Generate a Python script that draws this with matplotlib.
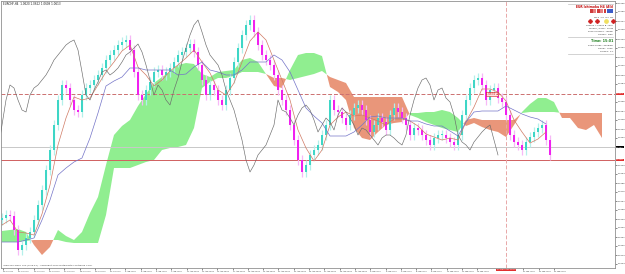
import numpy as np
import matplotlib
matplotlib.use("Agg")
import matplotlib.pyplot as plt
from matplotlib.transforms import blended_transform_factory
from matplotlib.lines import Line2D
from matplotlib.patches import Rectangle

# ---------------- data (values in pips above BASE price) ----------------
BASE = 1.0500
PIP = 0.0001

closes = [50, 53, 52, 38, 18, 23, 30, 36, 48, 63,
          78, 98, 118, 143, 168, 183, 180, 168, 158, 156,
          173, 180, 183, 188, 193, 200, 208, 213, 218, 223,
          226, 228, 218, 196, 173, 168, 178, 186, 196, 198,
          193, 196, 200, 206, 213, 216, 220, 224, 216, 203,
          188, 173, 183, 178, 168, 163, 178, 190, 206, 220,
          233, 243, 248, 236, 223, 213, 208, 203, 193, 178,
          168, 158, 143, 128, 108, 96, 103, 113, 118, 123,
          133, 143, 168, 158, 156, 150, 143, 153, 160, 163,
          158, 148, 136, 143, 150, 146, 138, 153, 160, 156,
          150, 143, 133, 140, 138, 133, 128, 123, 130, 133,
          133, 130, 126, 123, 133, 153, 168, 180, 188, 190,
          183, 168, 178, 180, 170, 166, 153, 133, 126, 123,
          118, 126, 131, 136, 140, 143, 128, 113]
first_open = 48

# Tenkan / Kijun, one value every 2 bars
tenkan = [43, 48, 36, 35, 33, 54, 83, 123, 150, 171,
          168, 170, 183, 196, 206, 217, 223, 201, 193, 182,
          188, 197, 203, 210, 218, 206, 195, 178, 173, 185,
          206, 227, 236, 228, 208, 188, 168, 138, 120, 107,
          118, 143, 151, 156, 152, 153, 150, 147, 143, 149,
          149, 147, 142, 134, 131, 128, 130, 128, 146, 161,
          179, 179, 176, 167, 148, 136, 125, 129, 136]
kijun = [26, 26, 26, 28, 30, 48, 68, 93, 100, 106,
         110, 130, 155, 182, 187, 191, 200, 200, 198, 198,
         198, 198, 193, 194, 201, 206, 198, 196, 193, 193,
         198, 206, 206, 206, 213, 208, 196, 178, 160, 152,
         145, 132, 132, 132, 136, 143, 151, 152, 150, 150,
         150, 147, 147, 144, 142, 142, 137, 132, 146, 156,
         157, 157, 157, 162, 158, 154, 151, 149, 144]

# Senkou spans (already shifted forward), one value every 2 bars
span_a = [37, 38, 39, 36, 23, 13, 21, 38, 32, 28,
          36, 55, 71, 103, 133, 142, 148, 162, 174, 185,
          191, 196, 203, 205, 204, 194, 191, 196, 197, 198,
          208, 210, 206, 194, 182, 180, 198, 213, 215, 215,
          212, 181, 176, 168, 140, 130, 128, 136, 143, 145,
          146, 155, 155, 156, 156, 158, 156, 150, 142, 145,
          141, 138, 136, 131, 143, 156, 164, 170, 170, 166,
          150, 150, 140, 138, 143, 130]
span_b = [26, 26, 26, 27, 28, 28, 28, 28, 26, 25,
          25, 25, 25, 53, 100, 100, 100, 103, 106, 108,
          118, 120, 121, 123, 140, 180, 186, 190, 190, 192,
          196, 196, 196, 194, 190, 190, 188, 190, 192, 194,
          197, 191, 188, 185, 171, 171, 171, 171, 171, 171,
          171, 153, 150, 146, 143, 140, 138, 136, 148, 150,
          148, 148, 148, 148, 148, 155, 156, 156, 156, 156,
          155, 155, 155, 155, 155, 155]
CHIKOU_SHIFT = 13

level_dashed = 174
level_gray = 121
level_red = 108
cursor_bar = 126

date_labels = ["20 Jul 2020", "21 Jul 12:00", "22 Jul 20:00", "24 Jul 04:00",
               "27 Jul 12:00", "28 Jul 20:00", "30 Jul 04:00", "31 Jul 12:00",
               "3 Aug 20:00", "5 Aug 04:00", "6 Aug 12:00", "7 Aug 20:00",
               "11 Aug 04:00", "12 Aug 12:00", "13 Aug 20:00", "17 Aug 04:00",
               "18 Aug 12:00", "19 Aug 20:00", "21 Aug 04:00", "24 Aug 12:00",
               "25 Aug 20:00", "27 Aug 04:00", "28 Aug 12:00", "31 Aug 20:00",
               "2 Sep 04:00", "3 Sep 12:00", "4 Sep 20:00", "8 Sep 04:00",
               "9 Sep 12:00", "10 Sep 20:00", "14 Sep 04:00", "15 Sep 12:00",
               "16 Sep 20:00", "18 Sep 04:00", "21 Sep 12:00", "22 Sep 20:00",
               "24 Sep 04:00"]
cursor_label = "17 Sep 2020 16:00"
title_text = "EURCHF,H4  1.0620 1.0622 1.0609 1.0613"
footer_text = "Ichimoku Kinko Hyo (9,26,52) - Copyright 2020 MetaQuotes Software Corp."
panel_title = "EUR Ichimoku H4 (Alt)"
panel_tf = "M15  H1  H4  D1"
panel_lines1 = ["Senkou A above B : Bull", "Tenkan / Kijun : Cross",
                "Price vs Kumo : Inside", "Chikou : Free"]
panel_time = "Time: 15:01"
panel_lines2 = ["Kumo break : Pending", "Signal : none", "Spread : 2.1"]

# ---------------- figure ----------------
W, H = 625, 274
fig = plt.figure(figsize=(W / 100, H / 100), dpi=100, facecolor="white")
ax = fig.add_axes([1 / W, 6 / H, 614 / W, 267 / H])
ax.set_xlim(-0.25, 153.25)
ax.set_ylim(0, 267)

GREEN = "#90ee90"
SALMON = "#e9967a"
BULL = "#3ed6c6"
BEAR = "#f020f0"
BULL_W = "#b4f0ea"
BEAR_W = "#f7b8f7"

# cloud
sa = np.array(span_a, float)
sb = np.array(span_b, float)
xs = np.arange(len(sa)) * 2
ax.fill_between(xs, sa, sb, where=sa >= sb, interpolate=True, color=GREEN, lw=0, zorder=1)
ax.fill_between(xs, sa, sb, where=sa < sb, interpolate=True, color=SALMON, lw=0, zorder=1)

# horizontal / vertical lines
ax.axhline(level_dashed, color="#cc7070", lw=0.7, ls=(0, (4, 2)), zorder=1.5)
ax.axhline(level_gray, color="#c8c8c8", lw=0.7, zorder=1.5)
ax.axhline(level_red, color="#d06060", lw=0.7, zorder=1.5)
ax.axvline(cursor_bar, color="#e8a8a8", lw=0.7, ls=(0, (4, 2)), zorder=1.5)

# candles
c = np.array(closes, float)
o = np.r_[first_open, c[:-1]]
xb = np.arange(len(c))
bull = c >= o
lo = np.minimum(o, c)
hi = np.maximum(o, c)
ax.vlines(xb, lo - 5, hi + 5, colors=np.where(bull, BULL_W, BEAR_W), lw=0.9, zorder=2)
ax.bar(xb, np.maximum(hi - lo, 1.0), bottom=lo, width=0.5,
       color=np.where(bull, BULL, BEAR), lw=0, zorder=3)

# indicator lines
xt = np.arange(len(tenkan)) * 2
ax.plot(xt, tenkan, color="#d07a64", lw=0.5, zorder=4)
ax.plot(xt, kijun, color="#7474c8", lw=0.5, zorder=4)
ax.plot(xb - CHIKOU_SHIFT, c, color="#6a6a6a", lw=0.45, zorder=4)

# axes styling
for s in ax.spines.values():
    s.set_color("#909090")
    s.set_linewidth(0.6)
ax.yaxis.tick_right()
grid_v = np.arange(4, 266, 9)
levels = np.array([level_dashed, level_gray, level_red])
yt = [v for v in grid_v if np.min(np.abs(levels - v)) > 4.5]
ax.set_yticks(yt)
ax.set_yticklabels([f"{BASE + v * PIP:.4f}" for v in yt])
ax.tick_params(axis="y", labelsize=1.6, length=1.2, width=0.4, pad=0.6, colors="#303030")

xt_pos = 0.25 + 3.825 * np.arange(len(date_labels))
keep = [k for k in range(len(date_labels)) if abs(xt_pos[k] + 1.5 - cursor_bar) > 3.2]
ax.set_xticks(xt_pos[keep])
ax.set_xticklabels([date_labels[k] for k in keep])
ax.tick_params(axis="x", labelsize=1.3, length=1.2, width=0.4, pad=0.6, colors="#303030")
for lab in ax.get_xticklabels():
    lab.set_ha("left")

# highlighted price labels on the right axis
tr = blended_transform_factory(ax.transAxes, ax.transData)
for v, fc in [(level_dashed, "#e03030"), (level_gray, "#000000"), (level_red, "#e03030")]:
    ax.text(1.002, v, f"{BASE + v * PIP:.4f}", transform=tr, fontsize=1.6, color="white",
            ha="left", va="center", clip_on=False, zorder=6,
            bbox=dict(boxstyle="square,pad=0.15", fc=fc, ec="none"))

# cursor time label
trx = blended_transform_factory(ax.transData, ax.transAxes)
ax.text(cursor_bar, -0.004, cursor_label, transform=trx, fontsize=1.4, color="white",
        ha="center", va="top", clip_on=False, zorder=6,
        bbox=dict(boxstyle="square,pad=0.25", fc="#e03030", ec="none"))

# small red marker label near the dashed level
ax.text(122.5, level_dashed, "1.0674 \u25c4", fontsize=1.9, color="#d02020", ha="center",
        va="center", zorder=6,
        bbox=dict(boxstyle="square,pad=0.15", fc="#ffe0e0", ec="#d02020", lw=0.4))

# title and footer
fig.text(3 / W, 1 - 4 / H, title_text, fontsize=2.0, ha="left", va="center", color="#202020")
fig.text(3 / W, 7.5 / H, footer_text, fontsize=1.7, ha="left", va="bottom", color="#404040")


# info panel (top right)
def fy(py):
    return 1 - py / H


def fx(px):
    return px / W


for py in (4, 37, 54):
    fig.add_artist(Line2D([fx(568), fx(613)], [fy(py), fy(py)], color="#c0c0c0", lw=0.5))
fig.text(fx(613), fy(7), panel_title, fontsize=2.2, color="#c00000", ha="right",
         va="center", weight="bold")
box_cols = ["#d03c3c", "#e88080", "#d03c3c", "#e88080", "#d03c3c", "#3c5cc8", "#3c5cc8"]
for k, col in enumerate(box_cols):
    fig.add_artist(Rectangle((fx(590 + k * 3.4), fy(13)), 2.8 / W, 3.5 / H, color=col, lw=0))
fig.text(fx(613), fy(17), panel_tf, fontsize=1.7, color="#303030", ha="right", va="center")
for px, mk, col in [(590, "P", "#d02020"), (597, "P", "#d02020"),
                    (606, "o", "#f0e060"), (613, "P", "#d02020")]:
    fig.add_artist(Line2D([fx(px)], [fy(21)], marker=mk, color=col, markersize=2.4, lw=0))
for k, t in enumerate(panel_lines1):
    fig.text(fx(613), fy(25 + k * 3.2), t, fontsize=1.6, color="#303030", ha="right", va="center")
fig.text(fx(613), fy(41), panel_time, fontsize=2.4, color="#208020", ha="right",
         va="center", weight="bold")
for k, t in enumerate(panel_lines2):
    fig.text(fx(613), fy(45.5 + k * 3.2), t, fontsize=1.6, color="#303030", ha="right", va="center")

fig.savefig("out.png", dpi=100, facecolor="white")
